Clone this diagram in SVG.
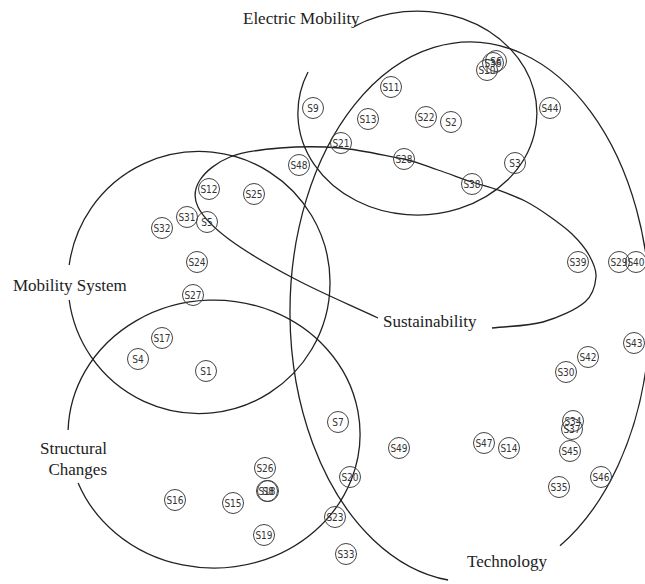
<svg xmlns="http://www.w3.org/2000/svg" width="645" height="584" viewBox="0 0 645 584">
  <style>
    .set { fill: none; stroke: #222; stroke-width: 1.3; }
    .lbl { font-family: "Liberation Serif", "Times New Roman", serif; font-size: 17px; fill: #222; }
    .node circle { fill: none; stroke: #444; stroke-width: 1; }
    .node text { font-family: "DejaVu Sans Condensed", "DejaVu Sans", sans-serif; font-stretch: condensed; font-size: 10px; fill: #333; text-anchor: middle; dominant-baseline: central; }
  </style>
  <rect width="645" height="584" fill="#fff"/>

  <!-- set outlines, each broken where its label sits -->
  <g id="sets">
    <path id="set-electric-mobility" class="set" d="M308,72 A119.5,102 0 1 0 354,26.6"/>
    <path id="set-mobility-system" class="set" d="M69.2,300 A131,131 0 1 0 69.2,265"/>
    <path id="set-structural-changes" class="set" d="M78.1,483 A146,134 0 1 0 68.1,430"/>
    <path id="set-sustainability" class="set" d="M492,328 C509,326 527.5,326.3 543,322 C558.5,317.7 576.2,309.5 585,302 C593.8,294.5 595.3,284.8 596,277 C596.7,269.2 593,262.2 589,255 C585,247.8 578.7,240.5 572,234 C565.3,227.5 556.8,221.5 549,216 C541.2,210.5 533.5,205.3 525,201 C516.5,196.7 506.8,193.2 498,190 C489.2,186.8 482,185.3 472,182 C462,178.7 449.3,173.8 438,170 C426.7,166.2 420.3,162.7 404,159 C383.3,155.3 360.7,149.8 340,148 C319.3,146.2 298.3,146.5 280,148 C261.7,149.5 243.3,151.7 230,157 C216.7,162.3 205.3,171.7 200,180 C194.7,188.3 193,197 198,207 C203,217 213.5,227.8 230,240 C246.5,252.2 272.3,267 297,280 C321.7,293 351,305.3 378,318"/>
    <path id="set-technology" class="set" d="M448.1,580 A180,270 0 1 1 560,545.8"/>
  </g>

  <g id="labels">
    <text class="lbl" x="243" y="24">Electric Mobility</text>
    <text class="lbl" x="13" y="291">Mobility System</text>
    <text class="lbl" x="383" y="327">Sustainability</text>
    <text class="lbl" x="107" y="454" text-anchor="end">Structural</text>
    <text class="lbl" x="107" y="475" text-anchor="end">Changes</text>
    <text class="lbl" x="467" y="567">Technology</text>
  </g>

  <g id="nodes">
    <g id="S10" class="node"><circle cx="487" cy="70" r="10.5"/><text x="487" y="70">S10</text></g>
    <g id="S36" class="node"><circle cx="493" cy="63" r="10.5"/><text x="493" y="63">S36</text></g>
    <g id="S6" class="node"><circle cx="496" cy="61" r="10.5"/><text x="496" y="61">S6</text></g>
    <g id="S9" class="node"><circle cx="313" cy="108" r="10.5"/><text x="313" y="108">S9</text></g>
    <g id="S11" class="node"><circle cx="391" cy="87" r="10.5"/><text x="391" y="87">S11</text></g>
    <g id="S13" class="node"><circle cx="368" cy="119" r="10.5"/><text x="368" y="119">S13</text></g>
    <g id="S22" class="node"><circle cx="426" cy="117" r="10.5"/><text x="426" y="117">S22</text></g>
    <g id="S2" class="node"><circle cx="451" cy="122" r="10.5"/><text x="451" y="122">S2</text></g>
    <g id="S44" class="node"><circle cx="550" cy="108" r="10.5"/><text x="550" y="108">S44</text></g>
    <g id="S21" class="node"><circle cx="341" cy="143" r="10.5"/><text x="341" y="143">S21</text></g>
    <g id="S48" class="node"><circle cx="299" cy="165" r="10.5"/><text x="299" y="165">S48</text></g>
    <g id="S28" class="node"><circle cx="404" cy="159" r="10.5"/><text x="404" y="159">S28</text></g>
    <g id="S3" class="node"><circle cx="515" cy="163" r="10.5"/><text x="515" y="163">S3</text></g>
    <g id="S38" class="node"><circle cx="472" cy="184" r="10.5"/><text x="472" y="184">S38</text></g>
    <g id="S12" class="node"><circle cx="209" cy="189" r="10.5"/><text x="209" y="189">S12</text></g>
    <g id="S25" class="node"><circle cx="254" cy="194" r="10.5"/><text x="254" y="194">S25</text></g>
    <g id="S31" class="node"><circle cx="187" cy="217" r="10.5"/><text x="187" y="217">S31</text></g>
    <g id="S5" class="node"><circle cx="207" cy="222" r="10.5"/><text x="207" y="222">S5</text></g>
    <g id="S32" class="node"><circle cx="162" cy="228" r="10.5"/><text x="162" y="228">S32</text></g>
    <g id="S24" class="node"><circle cx="197" cy="262" r="10.5"/><text x="197" y="262">S24</text></g>
    <g id="S27" class="node"><circle cx="193" cy="295" r="10.5"/><text x="193" y="295">S27</text></g>
    <g id="S17" class="node"><circle cx="162" cy="338" r="10.5"/><text x="162" y="338">S17</text></g>
    <g id="S4" class="node"><circle cx="138" cy="359" r="10.5"/><text x="138" y="359">S4</text></g>
    <g id="S1" class="node"><circle cx="206" cy="371" r="10.5"/><text x="206" y="371">S1</text></g>
    <g id="S7" class="node"><circle cx="338" cy="422" r="10.5"/><text x="338" y="422">S7</text></g>
    <g id="S49" class="node"><circle cx="399" cy="448" r="10.5"/><text x="399" y="448">S49</text></g>
    <g id="S47" class="node"><circle cx="484" cy="443" r="10.5"/><text x="484" y="443">S47</text></g>
    <g id="S14" class="node"><circle cx="509" cy="448" r="10.5"/><text x="509" y="448">S14</text></g>
    <g id="S26" class="node"><circle cx="265" cy="468" r="10.5"/><text x="265" y="468">S26</text></g>
    <g id="S18" class="node"><circle cx="267" cy="491" r="10.5"/><text x="267" y="491">S18</text></g>
    <g id="S8" class="node"><circle cx="268" cy="491" r="10.5"/><text x="268" y="491">S8</text></g>
    <g id="S16" class="node"><circle cx="175" cy="500" r="10.5"/><text x="175" y="500">S16</text></g>
    <g id="S15" class="node"><circle cx="233" cy="503" r="10.5"/><text x="233" y="503">S15</text></g>
    <g id="S19" class="node"><circle cx="264" cy="535" r="10.5"/><text x="264" y="535">S19</text></g>
    <g id="S20" class="node"><circle cx="350" cy="477" r="10.5"/><text x="350" y="477">S20</text></g>
    <g id="S23" class="node"><circle cx="335" cy="517" r="10.5"/><text x="335" y="517">S23</text></g>
    <g id="S33" class="node"><circle cx="346" cy="554" r="10.5"/><text x="346" y="554">S33</text></g>
    <g id="S39" class="node"><circle cx="578" cy="262" r="10.5"/><text x="578" y="262">S39</text></g>
    <g id="S29" class="node"><circle cx="619" cy="262" r="10.5"/><text x="619" y="262">S29</text></g>
    <g id="S40" class="node"><circle cx="636" cy="262" r="10.5"/><text x="636" y="262">S40</text></g>
    <g id="S43" class="node"><circle cx="634" cy="343" r="10.5"/><text x="634" y="343">S43</text></g>
    <g id="S42" class="node"><circle cx="588" cy="357" r="10.5"/><text x="588" y="357">S42</text></g>
    <g id="S30" class="node"><circle cx="566" cy="372" r="10.5"/><text x="566" y="372">S30</text></g>
    <g id="S34" class="node"><circle cx="573" cy="421" r="10.5"/><text x="573" y="421">S34</text></g>
    <g id="S37" class="node"><circle cx="572" cy="429" r="10.5"/><text x="572" y="429">S37</text></g>
    <g id="S45" class="node"><circle cx="570" cy="451" r="10.5"/><text x="570" y="451">S45</text></g>
    <g id="S35" class="node"><circle cx="559" cy="487" r="10.5"/><text x="559" y="487">S35</text></g>
    <g id="S46" class="node"><circle cx="601" cy="477" r="10.5"/><text x="601" y="477">S46</text></g>
  </g>
</svg>
